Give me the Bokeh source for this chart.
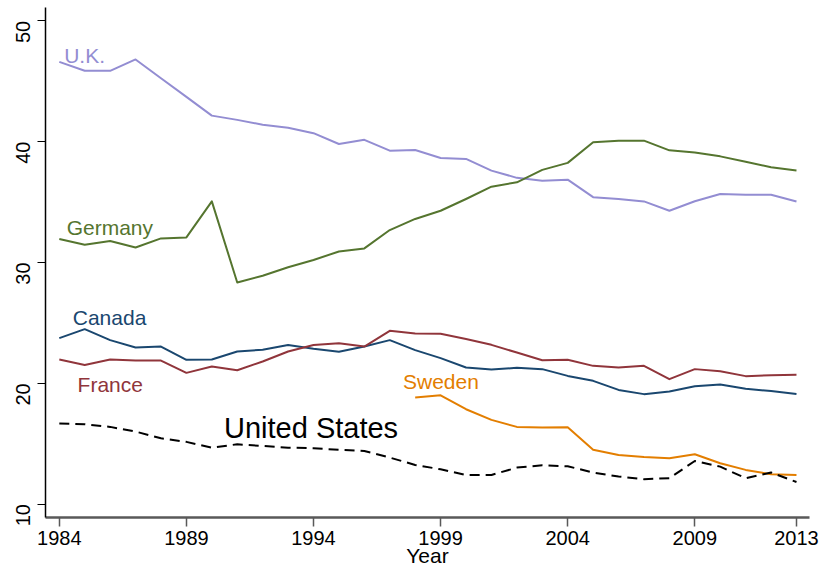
import math
from bokeh.plotting import figure
from bokeh.models import Range1d, FixedTicker, Label
from bokeh.embed import file_html
from bokeh.resources import INLINE

years = list(range(1984, 2014))
sweden_years = list(range(1998, 2014))

uk = [46.6, 45.86, 45.86, 46.8, 45.25, 43.7, 42.15, 41.8, 41.4, 41.15, 40.7, 39.8, 40.15, 39.25, 39.3,
      38.65, 38.57, 37.6, 37.0, 36.77, 36.85, 35.4, 35.25, 35.05, 34.28, 35.06, 35.67, 35.6, 35.6, 35.05]
germany = [31.94, 31.47, 31.77, 31.24, 31.99, 32.07, 35.05, 28.34, 28.9, 29.6, 30.2, 30.91, 31.16, 32.68, 33.6,
           34.28, 35.25, 36.27, 36.63, 37.66, 38.24, 39.95, 40.08, 40.08, 39.28, 39.09, 38.78, 38.34, 37.87, 37.6]
canada = [23.74, 24.48, 23.57, 22.96, 23.04, 21.94, 21.97, 22.63, 22.77, 23.16, 22.85, 22.6, 23.04, 23.57, 22.74,
          22.08, 21.3, 21.14, 21.28, 21.17, 20.61, 20.2, 19.45, 19.1, 19.31, 19.76, 19.9, 19.54, 19.35, 19.12]
france = [21.97, 21.52, 21.97, 21.88, 21.88, 20.86, 21.38, 21.08, 21.8, 22.63, 23.16, 23.32, 23.04, 24.34, 24.12,
          24.1, 23.66, 23.18, 22.54, 21.91, 21.94, 21.44, 21.3, 21.44, 20.34, 21.17, 21.0, 20.59, 20.67, 20.7]
sweden = [18.82, 19.0, 17.85, 16.97, 16.39, 16.33, 16.36, 14.5, 14.07, 13.9, 13.8, 14.13, 13.38, 12.83, 12.47, 12.41]
us = [16.66, 16.61, 16.39, 16.0, 15.45, 15.15, 14.67, 14.95, 14.81, 14.67, 14.62, 14.5, 14.4, 13.85, 13.24,
      12.88, 12.41, 12.41, 13.02, 13.21, 13.13, 12.61, 12.28, 12.06, 12.14, 13.57, 13.1, 12.14, 12.61, 11.83]

x_ticks = [1984, 1989, 1994, 1999, 2004, 2009, 2013]
y_ticks = [10, 20, 30, 40, 50]

FONT = "Liberation Sans"
C_UK = "#938dd2"
C_DE = "#55752f"
C_CA = "#1a476f"
C_FR = "#90353b"
C_SE = "#e37e00"
C_US = "#000000"

p = figure(width=822, height=569, output_backend="svg", toolbar_location=None,
           x_range=Range1d(1983.457, 2013.512), y_range=Range1d(8.89, 51.10),
           min_border_left=45, min_border_right=13, min_border_top=7, min_border_bottom=52)
p.outline_line_color = None
p.grid.visible = False
p.background_fill_color = "white"
p.border_fill_color = "white"

p.line(years, uk, line_color=C_UK, line_width=2, line_join="round")
p.line(years, germany, line_color=C_DE, line_width=2, line_join="round")
p.line(years, canada, line_color=C_CA, line_width=2, line_join="round")
p.line(years, france, line_color=C_FR, line_width=2, line_join="round")
p.line(sweden_years, sweden, line_color=C_SE, line_width=2, line_join="round")
p.line(years, us, line_color=C_US, line_width=2, line_dash="10 6", line_join="round")

# axes
xa = p.xaxis[0]
xa.ticker = FixedTicker(ticks=x_ticks)
xa.minor_tick_line_color = None
xa.major_tick_in = 0
xa.major_tick_out = 9
xa.axis_line_color = "#595959"
xa.axis_line_width = 2.5
xa.major_tick_line_color = "#595959"
xa.major_tick_line_width = 1.5
xa.major_label_text_font = FONT
xa.major_label_text_font_size = "20px"
xa.major_label_text_color = "black"
xa.major_label_standoff = 4
xa.axis_label = "Year"
xa.axis_label_text_font = FONT
xa.axis_label_text_font_size = "21px"
xa.axis_label_text_font_style = "normal"
xa.axis_label_text_color = "black"
xa.axis_label_standoff = -4

ya = p.yaxis[0]
ya.ticker = FixedTicker(ticks=y_ticks)
ya.minor_tick_line_color = None
ya.major_tick_in = 0
ya.major_tick_out = 8
ya.axis_line_color = "black"
ya.axis_line_width = 1.5
ya.major_tick_line_color = "black"
ya.major_tick_line_width = 1
ya.major_label_text_font = FONT
ya.major_label_text_font_size = "20px"
ya.major_label_text_color = "black"
ya.major_label_orientation = math.pi / 2
ya.major_label_standoff = 14

# series labels
labels = [
    ("U.K.", 1984.19, 47.10, C_UK, "21px"),
    ("Germany", 1984.29, 32.87, C_DE, "21px"),
    ("Canada", 1984.53, 25.42, C_CA, "21px"),
    ("France", 1984.72, 19.87, C_FR, "21px"),
    ("Sweden", 1997.52, 20.11, C_SE, "21px"),
    ("United States", 1990.48, 16.26, C_US, "29px"),
]
for txt, lx, ly, col, fs in labels:
    p.add_layout(Label(x=lx, y=ly, text=txt, text_color=col, text_font=FONT,
                       text_font_size=fs, text_align="left", text_baseline="alphabetic"))

open("out.html", "w").write(file_html(p, INLINE))
